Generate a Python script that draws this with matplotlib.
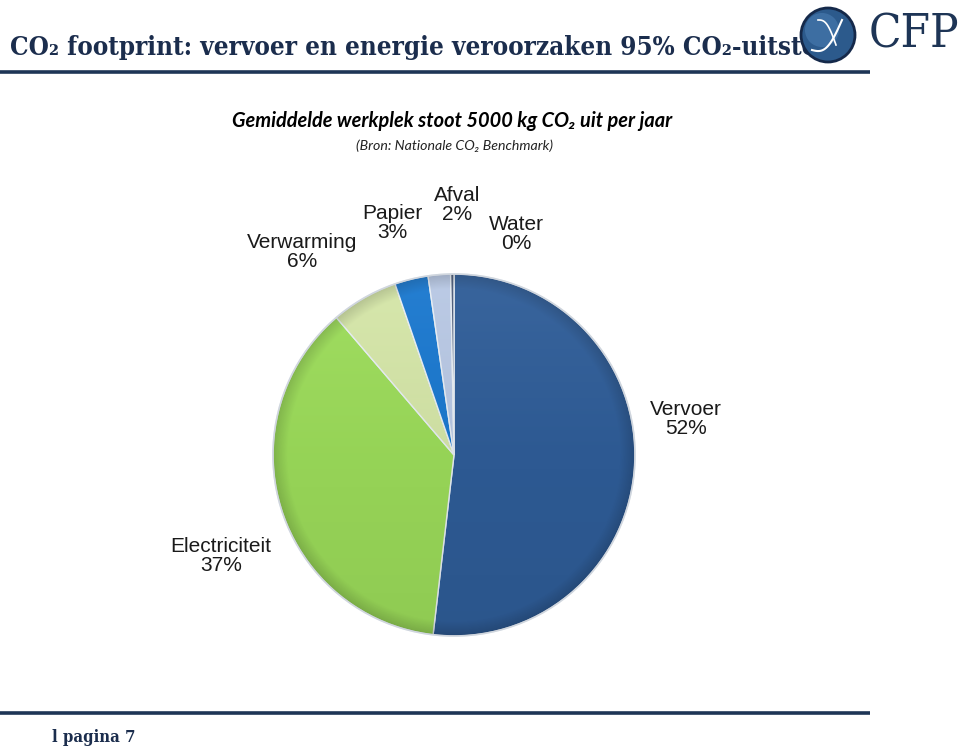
import numpy as np
import matplotlib
matplotlib.use("Agg")
import matplotlib.pyplot as plt
from matplotlib.patches import Circle

# data
categories = ["Vervoer", "Electriciteit", "Verwarming", "Papier", "Afval", "Water"]
values = [52, 37, 6, 3, 2, 0.3]
colors = ["#2F5D98", "#9CDC5A", "#D5E6A8", "#1A78CF", "#B8C8E4", "#4A5A78"]

# label centres in pixel coords (x, y from top)
label_pos = [(686, 419), (221, 556), (302, 252), (392, 223), (457, 205), (516, 234)]

W, H = 960, 751
fig = plt.figure(figsize=(9.6, 7.51), dpi=100)
ax = fig.add_axes([0, 0, 1, 1])
ax.set_xlim(0, W)
ax.set_ylim(0, H)
ax.set_aspect("equal")
ax.axis("off")

navy = "#1B2D4D"
serif = ["DejaVu Serif", "Liberation Serif"]
sans = ["Liberation Sans", "DejaVu Sans"]
calibri = ["Lato", "DejaVu Sans"]

def Y(py):
    return H - py

# header
ax.text(10, Y(48), "CO\u2082 footprint: vervoer en energie veroorzaken 95% CO\u2082-uitstoot",
        family=serif, fontsize=18.6, weight="bold", stretch="condensed", color=navy,
        va="center", ha="left", zorder=1)
ax.plot([0, 870], [Y(72), Y(72)], color="#1E3556", lw=2.6, solid_capstyle="butt")
ax.plot([0, 870], [Y(713), Y(713)], color="#1E3556", lw=2.6, solid_capstyle="butt")

# logo (drawn over the end of the title, as in the slide)
ax.add_patch(Circle((828, Y(35)), 27, facecolor="#2C5A8C", edgecolor="#15294A", lw=2, zorder=6))
ax.add_patch(Circle((822, Y(30)), 17, facecolor="#4A7DB2", edgecolor="none", alpha=0.6, zorder=6))
t = np.linspace(0, 1, 50)
ax.plot(812 + 30 * t, Y(50 - 30 * t + 12 * np.sin(np.pi * t)), color="white", lw=1.5, zorder=7)
ax.plot(818 + 18 * t, Y(20 + 25 * t - 8 * np.sin(np.pi * t)), color="white", lw=1.2, zorder=7)
ax.text(914, Y(35), "CFP", family=serif, fontsize=34, stretch="condensed", color="#1E3556",
        ha="center", va="center")

ax.text(52, Y(738), "l pagina 7", family=serif, fontsize=12, weight="bold",
        stretch="condensed", color=navy, ha="left", va="center")

# subtitles
ax.text(452, Y(121), "Gemiddelde werkplek stoot 5000 kg CO\u2082 uit per jaar",
        family=calibri, fontsize=14.4, weight="bold", style="italic", color="black",
        ha="center", va="center")
ax.text(454, Y(146), "(Bron: Nationale CO\u2082 Benchmark)",
        family=calibri, fontsize=10.2, style="italic", color="#222222",
        ha="center", va="center")

# pie
cx, cy, r = 454, Y(455), 181
wedges, _ = ax.pie(values, colors=colors, startangle=90, counterclock=False,
                   center=(cx, cy), radius=r, frame=True,
                   wedgeprops=dict(edgecolor="#E8EEF4", linewidth=1.0))
ax.set_xlim(0, W)
ax.set_ylim(0, H)
ax.axis("off")

# soft bevel shading over the pie
n = 400
gx, gy = np.meshgrid(np.linspace(-1, 1, n), np.linspace(1, -1, n))
rr = np.sqrt(gx ** 2 + gy ** 2)
shade = np.zeros((n, n, 4))
dark = np.clip((-gy * 0.5 + 0.5), 0, 1) * 0.08 + np.clip((rr - 0.92) / 0.08, 0, 1) * 0.15
light = np.clip(gy, 0, 1) * 0.05
shade[..., :3] = (light / (light + dark + 1e-9))[..., None]
shade[..., 3] = np.clip(light + dark, 0, 1)
im = ax.imshow(shade, extent=[cx - r, cx + r, cy - r, cy + r], zorder=3)
im.set_clip_path(Circle((cx, cy), r, transform=ax.transData))
ax.add_patch(Circle((cx, cy), r, facecolor="none", edgecolor="#D0D6DE", lw=1.2, zorder=4))

for name, v, (px, py) in zip(categories, values, label_pos):
    ax.text(px, Y(py), f"{name}\n{v:.0f}%", family=sans, fontsize=15, color="#1A1A1A",
            ha="center", va="center", linespacing=1.05, zorder=5)

fig.savefig("out.png", dpi=100)
